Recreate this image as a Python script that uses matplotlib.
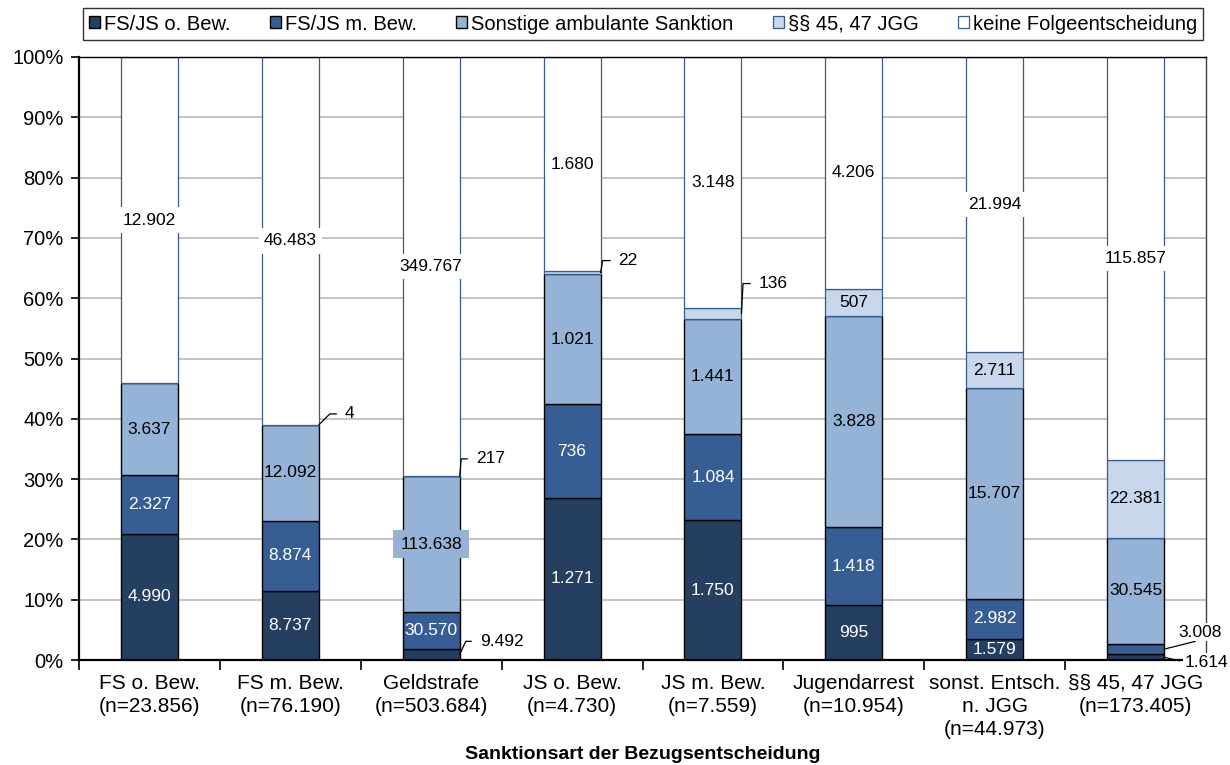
import numpy as np
import matplotlib
matplotlib.use('Agg')
import matplotlib.pyplot as plt

plt.rcParams['font.family'] = ['Liberation Sans', 'DejaVu Sans']

# Bezugsentscheidungen (x-Achse) und Folgeentscheidungen (Stapel)
categories = ['FS o. Bew.', 'FS m. Bew.', 'Geldstrafe', 'JS o. Bew.', 'JS m. Bew.',
              'Jugendarrest', 'sonst. Entsch.\nn. JGG', '§§ 45, 47 JGG']
series = ['FS/JS o. Bew.', 'FS/JS m. Bew.', 'Sonstige ambulante Sanktion',
          '§§ 45, 47 JGG', 'keine Folgeentscheidung']

fsjs_ohne = [4990, 8737, 9492, 1271, 1750, 995, 1579, 1614]
fsjs_mit = [2327, 8874, 30570, 736, 1084, 1418, 2982, 3008]
sonst_amb = [3637, 12092, 113638, 1021, 1441, 3828, 15707, 30545]
par_45_47 = [0, 4, 217, 22, 136, 507, 2711, 22381]
keine = [12902, 46483, 349767, 1680, 3148, 4206, 21994, 115857]

colors = ['#243F60', '#375E94', '#95B3D7', '#C8D7EB', '#FFFFFF']
edges = ['black', 'black', 'black', '#385D8A', '#385D8A']
text_colors = ['white', 'white', 'black', 'black', 'black']

# labels placed outside the bar with a leader line: (series, category) -> offset px, angle
elbow_leaders = {(3, 1): (26, 11, 45), (3, 2): (16, 17, 85), (3, 3): (18, 12, 80),
                 (3, 4): (17, 30, 87), (0, 2): (20, 13, 65)}
straight_leaders = {(1, 7): (36, 17), (0, 7): (21, -5)}


def de(v):
    return f"{v:,}".replace(',', '.')


data = np.array([fsjs_ohne, fsjs_mit, sonst_amb, par_45_47, keine])
totals = data.sum(axis=0)
shares = data / totals * 100
x = np.arange(len(categories))
width = 0.405

fig = plt.figure(figsize=(12.3, 7.65), dpi=100)
ax = fig.add_axes([79 / 1230, 105 / 765, 1127 / 1230, 603 / 765])

bottom = np.zeros(len(categories))
for i, name in enumerate(series):
    vals = shares[i]
    ax.bar(x, vals, width=width, bottom=bottom, color=colors[i], edgecolor=edges[i],
           linewidth=1.0 if i < 3 else 0.9, label=name, zorder=2)
    for j in range(len(x)):
        raw = data[i][j]
        if raw == 0:
            continue
        ymid = bottom[j] + vals[j] / 2
        if (i, j) in elbow_leaders:
            dx, dy, ang = elbow_leaders[(i, j)]
            ax.annotate(de(raw), xy=(j + width / 2, ymid), xytext=(dx, dy),
                        textcoords='offset pixels', ha='left', va='center', fontsize=12.5,
                        zorder=5, annotation_clip=False,
                        arrowprops=dict(arrowstyle='-', color='black', lw=0.9,
                                        connectionstyle=f'angle,angleA=0,angleB={ang},rad=0',
                                        shrinkA=4, shrinkB=0, relpos=(0, 0.5)))
        elif (i, j) in straight_leaders:
            dx, dy = straight_leaders[(i, j)]
            if dy > 0:
                ax.annotate(de(raw), xy=(j + width / 2, ymid), xytext=(dx, dy),
                            textcoords='offset pixels', ha='center', va='center', fontsize=12.5,
                            zorder=5, annotation_clip=False,
                            bbox=dict(boxstyle='square,pad=0.1', fc='white', ec='none'),
                            arrowprops=dict(arrowstyle='-', color='black', lw=0.9,
                                            shrinkA=0, shrinkB=0, relpos=(0.55, 0)))
            else:
                ax.annotate(de(raw), xy=(j + width / 2, ymid), xytext=(dx, dy),
                            textcoords='offset pixels', ha='left', va='center', fontsize=12.5,
                            zorder=5, annotation_clip=False,
                            bbox=dict(boxstyle='square,pad=0.1', fc='white', ec='none'),
                            arrowprops=dict(arrowstyle='-', color='black', lw=0.9,
                                            shrinkA=3, shrinkB=0, relpos=(0, 0.5)))
        else:
            box = None
            if i == 4:
                box = dict(boxstyle='square,pad=0.3', fc='white', ec='none')
            elif raw >= 100000:
                box = dict(boxstyle='square,pad=0.4', fc=colors[i], ec='none')
            ax.text(j, ymid, de(raw), ha='center', va='center', fontsize=12.5,
                    color=text_colors[i], bbox=box, zorder=4)
    bottom += vals

ax.set_xlim(-0.5, len(categories) - 0.5)
ax.set_ylim(0, 100)
ax.set_yticks(np.arange(0, 101, 10))
ax.set_yticklabels([f'{v}%' for v in range(0, 101, 10)], fontsize=14.5)
ax.set_xticks(x)
ax.set_xticklabels([f'{c}\n(n={de(t)})' for c, t in zip(categories, totals)],
                   fontsize=15, linespacing=1.28)
ax.set_xticks(np.arange(-0.5, len(categories)), minor=True)
ax.tick_params(axis='x', which='major', length=0, pad=10)
ax.tick_params(axis='x', which='minor', length=7, width=1.2, direction='out')
ax.tick_params(axis='y', length=6, width=1.2, direction='out', pad=5)

ax.yaxis.grid(True, color='#BFBFBF', linewidth=1.3)
ax.set_axisbelow(True)
for side in ['left', 'bottom']:
    ax.spines[side].set_linewidth(1.6)
    ax.spines[side].set_color('black')
ax.spines['top'].set_linewidth(1.0)
ax.spines['right'].set_linewidth(1.0)
ax.spines['right'].set_color('#404040')

ax.set_xlabel('Sanktionsart der Bezugsentscheidung', fontsize=14, fontweight='bold')
ax.xaxis.set_label_coords(0.5, -0.1560)
ax.xaxis.label.set_va('center')

handles, labels = ax.get_legend_handles_labels()
leg = fig.legend(handles, labels, loc='center', bbox_to_anchor=(643 / 1230, 1 - 24 / 765),
                 ncol=5, frameon=True, fancybox=False, edgecolor='black', fontsize=14.5,
                 handlelength=0.55, handleheight=0.55, handletextpad=0.2,
                 columnspacing=1.95, borderpad=0.3)
leg.get_frame().set_linewidth(1.0)

fig.savefig('out.png', dpi=100)
